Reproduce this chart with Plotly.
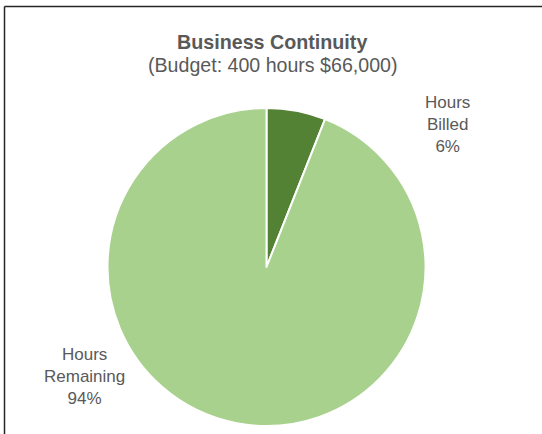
import plotly.graph_objects as go

# Budget usage data
categories = ["Hours Billed", "Hours Remaining"]
shares = [6, 94]
slice_colors = ["#548235", "#A9D18E"]

title_text = "Business Continuity"
subtitle_text = "(Budget: 400 hours $66,000)"

W, H = 542, 434
cx, cy, r = 266.5, 267, 159  # pie centre and radius in pixels (from top-left)

fig = go.Figure(
    go.Pie(
        labels=categories,
        values=shares,
        sort=False,
        direction="clockwise",
        rotation=0,
        marker=dict(colors=slice_colors, line=dict(color="white", width=2)),
        textinfo="none",
        hoverinfo="label+percent",
        showlegend=False,
        domain=dict(
            x=[(cx - r) / W, (cx + r) / W],
            y=[(H - cy - r) / H, (H - cy + r) / H],
        ),
    )
)

FONT = "Liberation Sans, Arial, sans-serif"
label_font = dict(family=FONT, size=17, color="#595959")
label_pos = {"Hours Billed": (447, 124), "Hours Remaining": (84, 376)}
annotations = []
for name, val in zip(categories, shares):
    words = name.split(" ")
    px, py = label_pos[name]
    annotations.append(
        dict(
            x=px / W, y=1 - py / H, xref="paper", yref="paper",
            text="<br>".join(words + [f"{val}%"]),
            showarrow=False, font=label_font, align="center",
            xanchor="center", yanchor="middle",
        )
    )

annotations.append(
    dict(
        x=272 / W, y=1 - 42 / H, xref="paper", yref="paper",
        text=f"<b>{title_text}</b>", showarrow=False,
        font=dict(family=FONT, size=19.7, color="#595959"),
        xanchor="center", yanchor="middle",
    )
)
annotations.append(
    dict(
        x=272 / W, y=1 - 65 / H, xref="paper", yref="paper",
        text=subtitle_text, showarrow=False,
        font=dict(family=FONT, size=19.6, color="#595959"),
        xanchor="center", yanchor="middle",
    )
)

fig.update_layout(
    width=W, height=H,
    margin=dict(l=0, r=0, t=0, b=0),
    paper_bgcolor="white",
    plot_bgcolor="white",
    annotations=annotations,
    shapes=[
        dict(type="line", xref="paper", yref="paper",
             x0=4.5 / W, x1=1.0, y0=1 - 6.5 / H, y1=1 - 6.5 / H,
             line=dict(color="#262626", width=1.5)),
        dict(type="line", xref="paper", yref="paper",
             x0=4.5 / W, x1=4.5 / W, y0=0, y1=1 - 6.5 / H,
             line=dict(color="#262626", width=1.5)),
    ],
)

fig.write_html("out.html")
